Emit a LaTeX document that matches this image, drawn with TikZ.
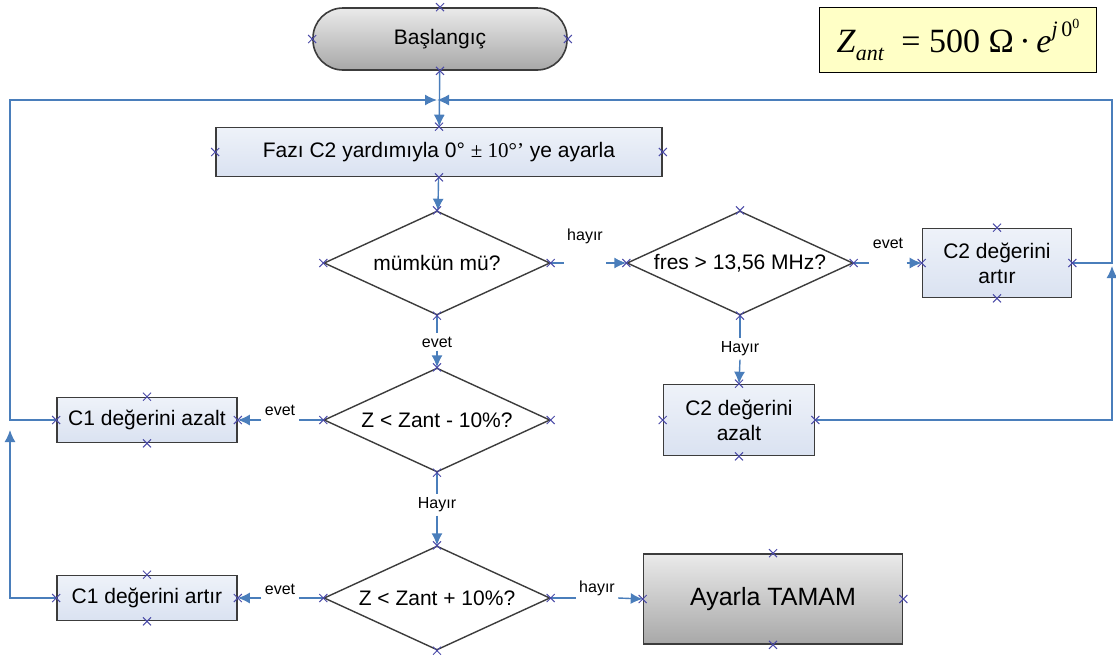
\documentclass[tikz,border=0pt]{standalone}
\usepackage{fontspec}
\setmainfont{Liberation Sans}
\newfontfamily\timesfont{Liberation Serif}
\usepackage{tikz}
\usetikzlibrary{
  shapes.geometric,%
  % cross marks for the connection points
  shapes.misc,%
  arrows.meta,
  positioning,
  calc
}
\definecolor{linkblue}{HTML}{4A7EBB}
\definecolor{boxedge}{HTML}{3C3C3C}
\definecolor{boxtop}{HTML}{EEF2F9}
\definecolor{boxbot}{HTML}{DAE2F1}
\definecolor{graytop}{HTML}{EAEAEA}
\definecolor{graybot}{HTML}{A8A8A8}
\definecolor{notefill}{HTML}{FFFFC6}
\definecolor{cptblue}{HTML}{4B4BA8}
\tikzset{>={Latex[length=6pt,width=5.5pt]}}
\tikzset{
  link/.style={draw=linkblue, line width=0.7pt},
  procbox/.style={rectangle, draw=boxedge, line width=0.8pt, top color=boxtop,
    bottom color=boxbot, align=center, inner sep=0pt,
    font=\fontsize{10.5}{12.5}\selectfont},
  termbox/.style={procbox, top color=graytop, bottom color=graybot},
  decision/.style={diamond, aspect=2.2, draw=boxedge, line width=0.7pt, fill=white,
    minimum width=113pt, minimum height=52pt, inner sep=0pt,
    font=\fontsize{10.5}{12.5}\selectfont},
  lbl/.style={font=\fontsize{8}{9}\selectfont, inner sep=1.5pt},
  cpt/.style={cross out, draw=cptblue, line width=0.5pt, minimum size=3.5pt, inner sep=0pt}
}
\begin{document}
\begin{tikzpicture}[x=0.5pt, y=-0.5pt]
  \useasboundingbox[fill=white] (0,0) rectangle (1116,655);
  % shapes
  \node[termbox, rounded corners=15pt, minimum width=127pt, minimum height=31pt]
    (start) at (440,39) {Başlangıç};
  \node[draw=black, line width=0.8pt, fill=notefill, minimum width=138.5pt,
    minimum height=32.5pt, inner sep=0pt] (zant) at (958,40)
    {\timesfont\fontsize{17}{20}\selectfont\textit{Z}\raisebox{-4pt}{\fontsize{11}{12}\selectfont\textit{ant}}\ \ =\ 500\ Ω\,·\,\textit{e}\raisebox{8pt}{\fontsize{11}{12}\selectfont\textit{j}\,0\raisebox{4pt}{\fontsize{7}{8}\selectfont 0}}};
  \node[procbox, minimum width=223pt, minimum height=24.5pt] (faz) at (439,152)
    {Fazı C2 yardımıyla 0° {\timesfont ±~10°’} ye ayarla};
  \node[decision] (d1) at (437,263) {mümkün mü?};
  \node[decision] (d2) at (740,263) {fres > 13,56 MHz?};
  \node[procbox, minimum width=74.5pt, minimum height=34.5pt] (c2up) at (997,263)
    {C2 değerini\\artır};
  \node[procbox, minimum width=75.5pt, minimum height=35.5pt] (c2down) at (739,420)
    {C2 değerini\\azalt};
  \node[decision] (d3) at (437,420) {Z < Zant - 10\%?};
  \node[procbox, minimum width=90pt, minimum height=22.5pt] (c1down) at (147,420)
    {C1 değerini azalt};
  \node[decision] (d4) at (437,598) {Z < Zant + 10\%?};
  \node[procbox, minimum width=90pt, minimum height=22.5pt] (c1up) at (147,598)
    {C1 değerini artır};
  \node[termbox, minimum width=129.5pt, minimum height=45pt,
    font=\fontsize{12.5}{14}\selectfont] (done) at (773,599) {Ayarla TAMAM};

  % loop corners
  \coordinate (merge) at (437,100);
  \coordinate (lcorner) at (10,100);
  \coordinate (rcorner) at (1112,100);
  \coordinate (ljoin) at (10,430);
  \coordinate (rjoin) at (1112,266);

  % labels on the connectors
  \node[lbl] (h1) at (585,236) {hayır};
  \node[lbl] (e1) at (888,243) {evet};
  \node[lbl] (h2) at (740,349) {Hayır};
  \node[lbl] (e2) at (437,342) {evet};
  \node[lbl] (e3) at (280,410) {evet};
  \node[lbl] (h3) at (437,505) {Hayır};
  \node[lbl] (e4) at (280,589) {evet};
  \node[lbl] (h4) at (597,588) {hayır};

  % connectors
  \draw[link, ->] (start) -- (faz);
  \draw[link, ->] (faz) -- (d1);
  \draw[link] (d1.east) -- (d1.east -| h1.west);
  \draw[link, ->] (d1.east -| h1.east) -- (d2.west);
  \draw[link] (d2.east) -- (d2.east -| e1.west);
  \draw[link, ->] (d2.east -| e1.east) -- (c2up.west);
  \draw[link] (d2.south) -- (h2.north);
  \draw[link, ->] (h2.south) -- (c2down.north);
  \draw[link] (d1.south) -- (e2.north);
  \draw[link, ->] (e2.south) -- (d3.north);
  \draw[link] (d3.west) -- (d3.west -| e3.east);
  \draw[link, ->] (d3.west -| e3.west) -- (c1down.east);
  \draw[link] (d3.south) -- (h3.north);
  \draw[link, ->] (h3.south) -- (d4.north);
  \draw[link] (d4.west) -- (d4.west -| e4.east);
  \draw[link, ->] (d4.west -| e4.west) -- (c1up.east);
  \draw[link] (d4.east) -- (d4.east -| h4.west);
  \draw[link, ->] (d4.east -| h4.east) -- (done.west);
  % back to the top
  \draw[link, ->] (c1down.west) -| (lcorner) -- (merge);
  \draw[link, ->] (c1up.west) -| (ljoin);
  \draw[link, ->] (c2up.east) -| (rcorner) -- (merge);
  \draw[link, ->] (c2down.east) -| (rjoin);

  % connection points
  \foreach \n in {start,faz,d1,d2,c2up,c2down,d3,c1down,d4,c1up,done}
    \foreach \a in {north,east,south,west}
      \node[cpt] at (\n.\a) {};
\end{tikzpicture}
\end{document}
